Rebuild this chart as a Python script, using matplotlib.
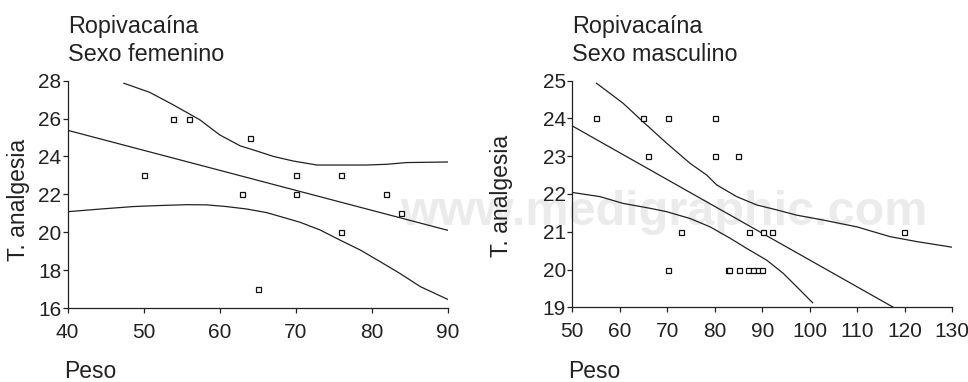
import matplotlib.pyplot as plt

plt.rcParams['font.family'] = ['Liberation Sans', 'DejaVu Sans']

# --- datos: sexo femenino ---
fem_peso = [50.0, 53.9, 55.9, 64.0, 63.0, 65.0, 70.0, 70.0, 76.0, 76.0, 81.9, 83.9]
fem_tanalg = [23, 26, 26, 25, 22, 17, 23, 22, 23, 20, 22, 21]
fem_fit_x = [40, 90]
fem_fit_y = [25.38, 20.11]
fem_sup_x = [47.4, 50.8, 53.9, 57.4, 60.0, 62.7, 64.4, 67.1, 69.7, 72.8, 75.8, 79.3, 82.0, 84.6, 90.0]
fem_sup_y = [27.86, 27.38, 26.72, 25.93, 25.14, 24.56, 24.35, 24.0, 23.76, 23.55, 23.55, 23.55, 23.59, 23.68, 23.71]
fem_inf_x = [40, 44.3, 48.6, 51.7, 55.7, 58.3, 60.9, 63.6, 66.2, 68.8, 70.6, 73.2, 75.8, 78.5, 81.1, 83.7, 86.4, 90.0]
fem_inf_y = [21.09, 21.23, 21.36, 21.41, 21.46, 21.45, 21.36, 21.23, 21.04, 20.74, 20.53, 20.13, 19.6, 19.07, 18.46, 17.84, 17.14, 16.47]

# --- datos: sexo masculino ---
masc_peso = [54.9, 64.9, 70.1, 80.1, 66.0, 80.1, 84.9, 72.9, 87.1, 90.1, 92.0, 119.9,
             70.1, 82.7, 82.9, 85.0, 87.0, 88.0, 89.0, 90.0]
masc_tanalg = [24, 24, 24, 24, 23, 23, 23, 21, 21, 21, 21, 21,
               20, 20, 20, 20, 20, 20, 20, 20]
masc_fit_x = [50, 117.6]
masc_fit_y = [23.8, 19.0]
masc_sup_x = [55.1, 60.7, 64.9, 69.9, 74.8, 78.3, 80.4, 84.6, 88.8, 93.0, 97.2, 102.8, 109.9, 116.9, 122.5, 130.0]
masc_sup_y = [24.93, 24.4, 23.91, 23.34, 22.81, 22.5, 22.24, 21.93, 21.71, 21.58, 21.44, 21.31, 21.13, 20.87, 20.74, 20.59]
masc_inf_x = [50, 55.8, 60.7, 66.4, 69.9, 74.8, 79.0, 83.2, 86.7, 90.9, 94.4, 97.2, 100.6]
masc_inf_y = [22.04, 21.93, 21.75, 21.62, 21.53, 21.35, 21.13, 20.83, 20.56, 20.25, 19.9, 19.55, 19.12]

fem_xticks = [40, 50, 60, 70, 80, 90]
fem_yticks = [16, 18, 20, 22, 24, 26, 28]
masc_xticks = [50, 60, 70, 80, 90, 100, 110, 120, 130]
masc_yticks = [19, 20, 21, 22, 23, 24, 25]

fig = plt.figure(figsize=(9.68, 3.82), dpi=100)

# marca de agua, detras de todo
fig.text(0.686, 0.41, 'www.medigraphic.com', fontsize=35, fontweight='bold',
         color='#ebebeb', ha='center', va='baseline', zorder=-1)

ax1 = fig.add_axes([0.0699, 0.193, 0.3926, 0.596])
ax2 = fig.add_axes([0.5912, 0.1955, 0.3926, 0.5935])

paneles = [
    (ax1, fem_peso, fem_tanalg, fem_fit_x, fem_fit_y, fem_sup_x, fem_sup_y, fem_inf_x, fem_inf_y,
     fem_xticks, fem_yticks, 'Sexo femenino'),
    (ax2, masc_peso, masc_tanalg, masc_fit_x, masc_fit_y, masc_sup_x, masc_sup_y, masc_inf_x, masc_inf_y,
     masc_xticks, masc_yticks, 'Sexo masculino'),
]

for ax, px, py, fx, fy, sx, sy, ix, iy, xt, yt, sexo in paneles:
    ax.set_facecolor('none')
    ax.plot(fx, fy, color='#222222', lw=0.9)
    ax.plot(sx, sy, color='#222222', lw=0.9)
    ax.plot(ix, iy, color='#222222', lw=0.9)
    ax.plot(px, py, linestyle='none', marker='s', markersize=3.6,
            markerfacecolor='white', markeredgecolor='#111111', markeredgewidth=0.9)
    ax.set_xlim(xt[0], xt[-1])
    ax.set_ylim(yt[0], yt[-1])
    ax.set_xticks(xt)
    ax.set_yticks(yt)
    ax.spines['top'].set_visible(False)
    ax.spines['right'].set_visible(False)
    for s in ['left', 'bottom']:
        ax.spines[s].set_linewidth(0.9)
        ax.spines[s].set_color('#222222')
    ax.tick_params(axis='both', direction='out', length=3.6, width=0.9,
                   labelsize=15, colors='#222222')
    ax.tick_params(axis='x', pad=7)
    ax.tick_params(axis='y', pad=1)
    ax.set_ylabel('T. analgesia', fontsize=16.5, color='#222222')
    bbox = ax.get_position()
    fig.text(bbox.x0, 1 - 33 / 382, 'Ropivacaína', fontsize=16.8, color='#222222',
             ha='left', va='baseline')
    fig.text(bbox.x0, 1 - 61 / 382, sexo, fontsize=16.8, color='#222222',
             ha='left', va='baseline')
    fig.text(bbox.x0 - 0.004, 1 - 378 / 382, 'Peso', fontsize=16.5, color='#222222',
             ha='left', va='baseline')

ax1.yaxis.set_label_coords(-0.099, 0.478)
ax2.yaxis.set_label_coords(-0.156, 0.49)

fig.savefig('out.png', dpi=100)
